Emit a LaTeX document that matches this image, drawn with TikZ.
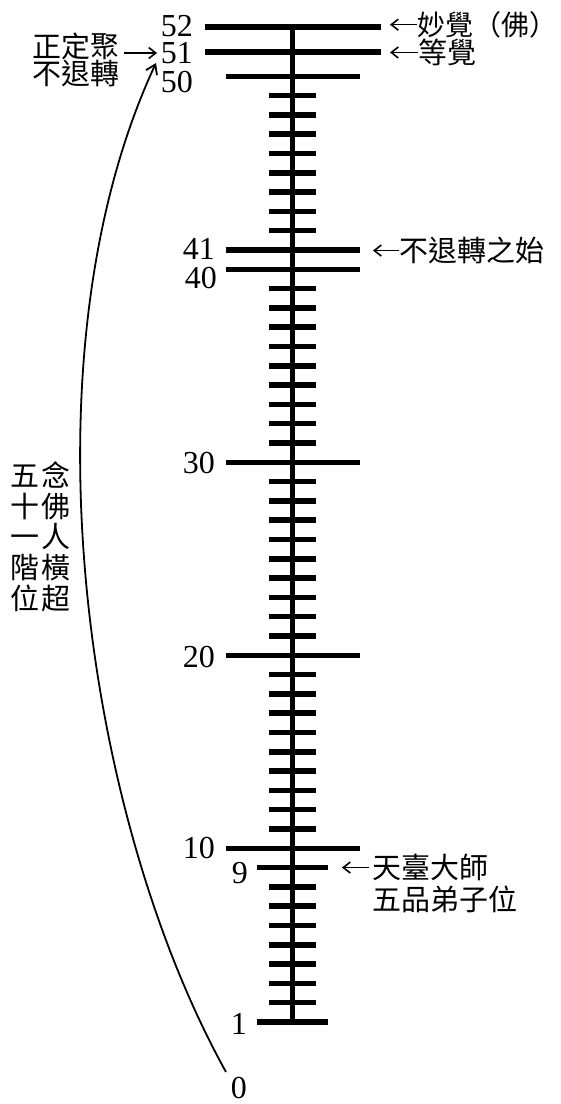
\documentclass[tikz,border=0pt]{standalone}
\usepackage{fontspec}
\setmainfont{Liberation Serif}
\newfontfamily\cjk{Noto Sans CJK TC}
\usetikzlibrary{arrows.meta}
\begin{document}
\begin{tikzpicture}[x=1pt,y=-1pt,
  num/.style={font=\fontsize{32}{32}\selectfont, inner sep=0pt, anchor=base east, text height=21.5pt, text depth=0pt},
  lab/.style={font=\cjk\fontsize{29}{29}\selectfont, inner sep=0pt, anchor=base west},
  vch/.style={font=\cjk\fontsize{29}{29}\selectfont, inner sep=0pt, anchor=base},
  bar/.style={line width=5.5pt},
  stem/.style={line width=4.3pt},
  ptr/.style={line width=1.6pt, -{Straight Barb[length=7pt,width=11pt]}},
  bigarc/.style={line width=1.8pt, -{Straight Barb[length=9pt,width=12pt]}}]
\useasboundingbox (0,0) rectangle (561,1104);
\def\cx{292.5}
% stem
\draw[stem] (\cx,27) -- (\cx,1022);
% short ticks
\foreach \n in {2,...,49}{
  \pgfmathtruncatemacro\skipit{(mod(\n,10)==0)||(\n==9)||(\n==41)}
  \ifnum\skipit=0
    \pgfmathsetmacro\yy{1022-(\n-1)*19.3}
    \draw[bar] (\cx-23.5,\yy) -- (\cx+23.5,\yy);
  \fi
}
% long bars
\foreach \n in {10,20,30,40,41,50}{
  \pgfmathsetmacro\yy{1022-(\n-1)*19.3}
  \draw[bar] (\cx-67,\yy) -- (\cx+67,\yy);
}
% medium bars
\foreach \n in {1,9}{
  \pgfmathsetmacro\yy{1022-(\n-1)*19.3}
  \draw[bar] (\cx-35.5,\yy) -- (\cx+35.5,\yy);
}
% extra long bars
\draw[bar] (\cx-88,52) -- (\cx+88,52);
\draw[bar] (\cx-88,27) -- (\cx+88,27);
% number labels
\node[num] (n52) at (193,36.8) {52};
\node[num] (n51) at (193,63.3) {51};
\node[num] (n50) at (193,92.3) {50};
\node[num] (n41) at (215,259.8) {41};
\node[num] (n40) at (217,288.8) {40};
\node[num] (n30) at (215,473.8) {30};
\node[num] (n20) at (215,667.3) {20};
\node[num] (n10) at (215,858.3) {10};
\node[num] (n9) at (248,883.8) {9};
\node[num] (n1) at (247,1034.8) {1};
\node[num] (n0) at (247,1098) {0};
% right labels
\node[lab, font=\cjk\fontsize{28}{28}\selectfont] (l52) at (417,35.3) {妙覺（佛）};
\node[lab] (l51) at (418,63.6) {等覺};
\node[lab] (l41) at (399,261.6) {不退轉之始};
\node[lab] (l9a) at (372,878.6) {天臺大師};
\node[lab] (l9b) at (372,910.6) {五品弟子位};
% left labels
\node[lab] (z1) at (32,57.6) {正定聚};
\node[lab] (z2) at (32,84.6) {不退轉};
% vertical text
\foreach \c [count=\i from 0] in {五,十,一,階,位}{
  \node[vch] (va\i) at (25,{486.6+30.6*\i}) {\c};
}
\foreach \c [count=\i from 0] in {念,佛,人,橫,超}{
  \node[vch] (vb\i) at (56,{486.6+30.6*\i}) {\c};
}
% pointer arrows
\coordinate (t52) at (390,25);
\coordinate (t51) at (390,53);
\coordinate (t41) at (373,251);
\coordinate (t9) at (342,868);
\draw[ptr] (l52.west) -- (l52.west -| t52);
\draw[ptr] (l51.west) -- (l51.west -| t51);
\draw[ptr] (l41.west) -- (l41.west -| t41);
\draw[ptr] ([xshift=-3pt]l9a.west) -- (l9a.west -| t9);
\coordinate (a51s) at (124,53);
\coordinate (a51t) at (157,53);
\draw[ptr] (a51s) -- (a51t);
% big curve from 0 to 51
\coordinate (c0) at (226,1072);
\coordinate (c51) at (156,63);
\draw[bigarc] (c0) .. controls (80.5,809.5) and (21,353) .. (c51);
\end{tikzpicture}
\end{document}
